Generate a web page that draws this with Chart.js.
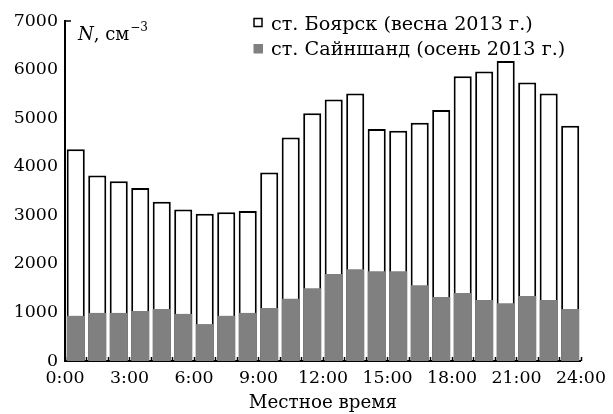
<!DOCTYPE html>
<html>
<head>
<meta charset="utf-8">
<script src="https://cdn.jsdelivr.net/npm/chart.js@4.4.0/dist/chart.umd.min.js"></script>
<style>
  html, body { margin: 0; padding: 0; background: #fff; }
  #wrap { width: 613px; height: 414px; }
</style>
</head>
<body>
<div id="wrap"><canvas id="chart"></canvas></div>
<script>
// hours 0..23, bar centred on the middle of each hour
const hours = [0, 1, 2, 3, 4, 5, 6, 7, 8, 9, 10, 11, 12, 13, 14, 15, 16, 17, 18, 19, 20, 21, 22, 23];
const boyarsk = [4360, 3820, 3700, 3560, 3280, 3120, 3030, 3060, 3090, 3880, 4600, 5100,
                 5385, 5505, 4775, 4740, 4905, 5170, 5860, 5960, 6175, 5735, 5505, 4845];
const sainshand = [930, 990, 990, 1030, 1070, 970, 760, 930, 990, 1090, 1280, 1500,
                   1790, 1890, 1850, 1850, 1560, 1320, 1400, 1255, 1190, 1340, 1255, 1070];
const xTicks = [0, 3, 6, 9, 12, 15, 18, 21, 24];
const yTicks = [0, 1000, 2000, 3000, 4000, 5000, 6000, 7000];
const legendLabels = ['ст. Боярск (весна 2013 г.)', 'ст. Сайншанд (осень 2013 г.)'];

const FONT = 'DejaVu Serif';
const GRAY = '#808080';

const toPoints = (vals) => vals.map((v, i) => ({ x: hours[i] + 0.5, y: v }));

// inward hour ticks, y-axis label and legend
const decor = {
  id: 'decor',
  afterDatasetsDraw(chart) {
    const { ctx, chartArea, scales } = chart;
    const x = scales.x, y = scales.y;
    ctx.save();
    ctx.strokeStyle = '#000';
    ctx.lineWidth = 1.5;
    ctx.beginPath();
    for (let h = 0; h <= 24; h++) {
      const px = Math.round(x.getPixelForValue(h)) + 0.5;
      ctx.moveTo(px, chartArea.bottom);
      ctx.lineTo(px, chartArea.bottom - 4);
    }
    const ty = y.getPixelForValue(7000);
    ctx.moveTo(chartArea.left, ty);
    ctx.lineTo(chartArea.left + 6, ty);
    ctx.stroke();

    ctx.fillStyle = '#000';
    ctx.textBaseline = 'alphabetic';
    ctx.font = `italic 18px "${FONT}"`;
    ctx.fillText('N', 78, 40);
    let w = ctx.measureText('N').width;
    ctx.font = `18px "${FONT}"`;
    ctx.fillText(', см', 78 + w, 40);
    w += ctx.measureText(', см').width;
    ctx.font = `12px "${FONT}"`;
    ctx.fillText('\u22123', 78 + w + 1, 31);

    // legend
    ctx.font = `19.2px "${FONT}"`;
    ctx.fillStyle = '#fff';
    ctx.lineWidth = 1.5;
    ctx.fillRect(254, 18.5, 8, 8);
    ctx.strokeRect(254, 18.5, 8, 8);
    ctx.fillStyle = GRAY;
    ctx.fillRect(253.5, 44, 9.5, 9.5);
    ctx.fillStyle = '#000';
    ctx.fillText(legendLabels[0], 271, 30);
    ctx.fillText(legendLabels[1], 271, 55);
    ctx.restore();
  }
};

new Chart(document.getElementById('chart'), {
  type: 'bar',
  data: {
    datasets: [
      {
        label: legendLabels[1],
        data: toPoints(sainshand),
        backgroundColor: GRAY,
        borderWidth: 0,
        grouped: false,
        barPercentage: 0.84,
        categoryPercentage: 1,
        order: 0,
      },
      {
        label: legendLabels[0],
        data: toPoints(boyarsk),
        backgroundColor: '#fff',
        borderColor: '#000',
        borderWidth: 2,
        borderSkipped: 'bottom',
        grouped: false,
        barPercentage: 0.84,
        categoryPercentage: 1,
        order: 1,
      },
    ],
  },
  options: {
    responsive: true,
    maintainAspectRatio: false,
    animation: false,
    events: [],
    layout: { autoPadding: false, padding: { top: 21, right: 30, left: 0, bottom: 0 } },
    plugins: { legend: { display: false }, tooltip: { enabled: false } },
    scales: {
      x: {
        type: 'linear',
        offset: false,
        min: 0,
        max: 24,
        afterFit: (s) => { s.height = 53; },
        afterBuildTicks: (s) => { s.ticks = xTicks.map((v) => ({ value: v })); },
        grid: { display: false, drawTicks: false, offset: false },
        border: { display: true, color: '#000', width: 2 },
        ticks: {
          color: '#000',
          padding: 7,
          maxRotation: 0,
          autoSkip: false,
          font: { family: FONT, size: 17.4 },
          callback: (v) => `${v}:00`,
        },
        title: {
          display: true,
          text: 'Местное время',
          color: '#000',
          padding: { top: 0, bottom: 0 },
          font: { family: FONT, size: 18.3 },
        },
      },
      y: {
        min: 0,
        max: 7000,
        afterFit: (s) => { s.width = 65; },
        afterBuildTicks: (s) => { s.ticks = yTicks.map((v) => ({ value: v })); },
        grid: { display: false, drawTicks: false },
        border: { display: true, color: '#000', width: 2 },
        ticks: {
          color: '#000',
          padding: 7,
          font: { family: FONT, size: 17.4 },
          callback: (v) => String(v),
        },
      },
    },
  },
  plugins: [decor],
});
</script>
</body>
</html>
